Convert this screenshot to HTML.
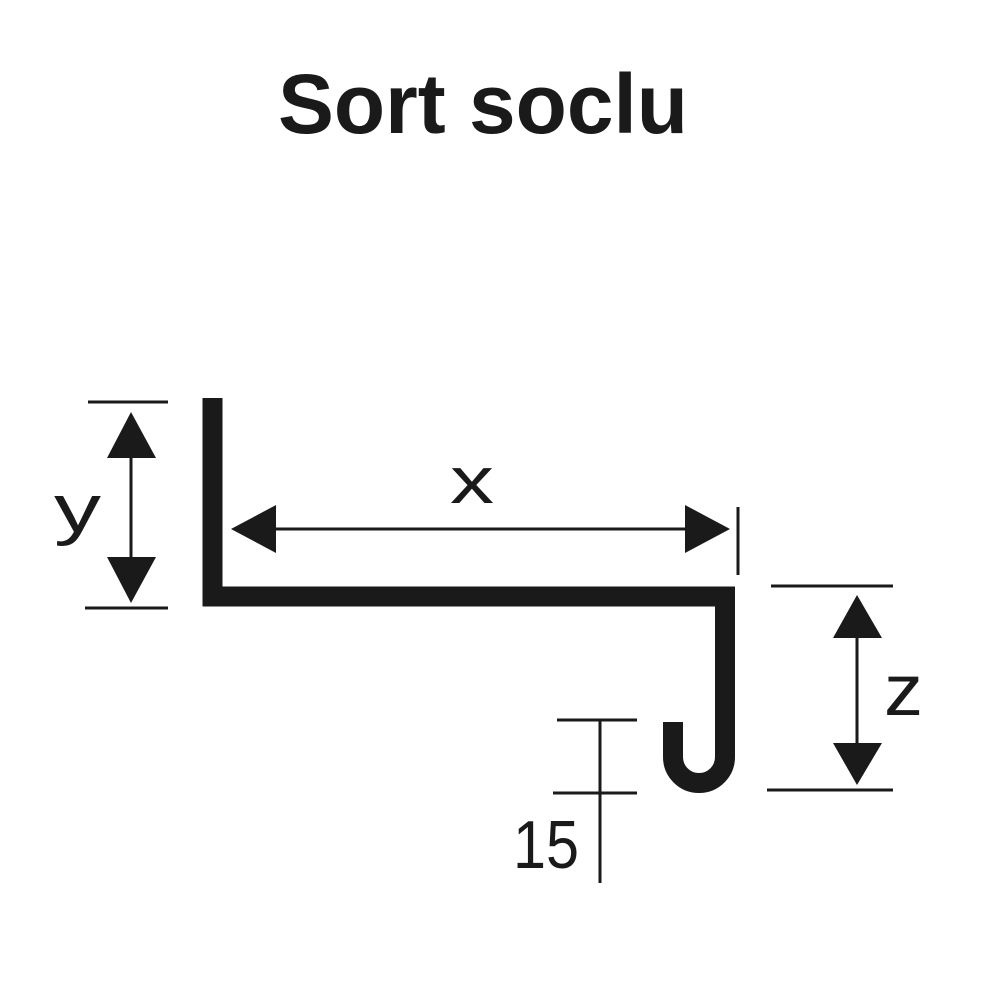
<!DOCTYPE html>
<html><head><meta charset="utf-8"><style>
html,body{margin:0;padding:0;background:#fff;}
svg{display:block;}
text{font-family:"Liberation Sans",sans-serif;fill:#1a1a1a;}
</style></head><body>
<svg width="1000" height="1000" viewBox="0 0 1000 1000" xmlns="http://www.w3.org/2000/svg">
<text x="278" y="133" font-size="84" font-weight="bold" textLength="410" lengthAdjust="spacingAndGlyphs">Sort soclu</text>

<!-- profile -->
<path d="M212.5 398 V596.5 H725 V757 A26 26 0 0 1 673 757 V722" fill="none" stroke="#1a1a1a" stroke-width="20" stroke-linejoin="miter"/>

<g stroke="#1a1a1a" stroke-width="3" fill="none">
<line x1="88" y1="402" x2="168" y2="402"/>
<line x1="85" y1="608" x2="168" y2="608"/>
<line x1="131" y1="440" x2="131" y2="570"/>
<line x1="260" y1="529" x2="700" y2="529"/>
<line x1="738" y1="507" x2="738" y2="575"/>
<line x1="771" y1="586" x2="893" y2="586"/>
<line x1="767" y1="790" x2="893" y2="790"/>
<line x1="857" y1="620" x2="857" y2="760"/>
<line x1="557" y1="720" x2="637" y2="720"/>
<line x1="553" y1="793" x2="637" y2="793"/>
<line x1="600" y1="720" x2="600" y2="883"/>
</g>
<g fill="#1a1a1a">
<polygon points="131,412 107,458 156,458"/>
<polygon points="131,603 107,557 156,557"/>
<polygon points="231,529 276,505 276,553"/>
<polygon points="730,529 685,505 685,553"/>
<polygon points="857,595 833,638 882,638"/>
<polygon points="857,785 833,743 882,743"/>
</g>
<text x="450" y="503" font-size="66" textLength="44" lengthAdjust="spacingAndGlyphs">x</text>
<text x="54" y="532" font-size="68" textLength="47" lengthAdjust="spacingAndGlyphs">y</text>
<text x="884" y="715" font-size="72" textLength="39" lengthAdjust="spacingAndGlyphs">z</text>
<text x="513" y="868" font-size="68" textLength="66" lengthAdjust="spacingAndGlyphs">15</text>
</svg>
</body></html>
